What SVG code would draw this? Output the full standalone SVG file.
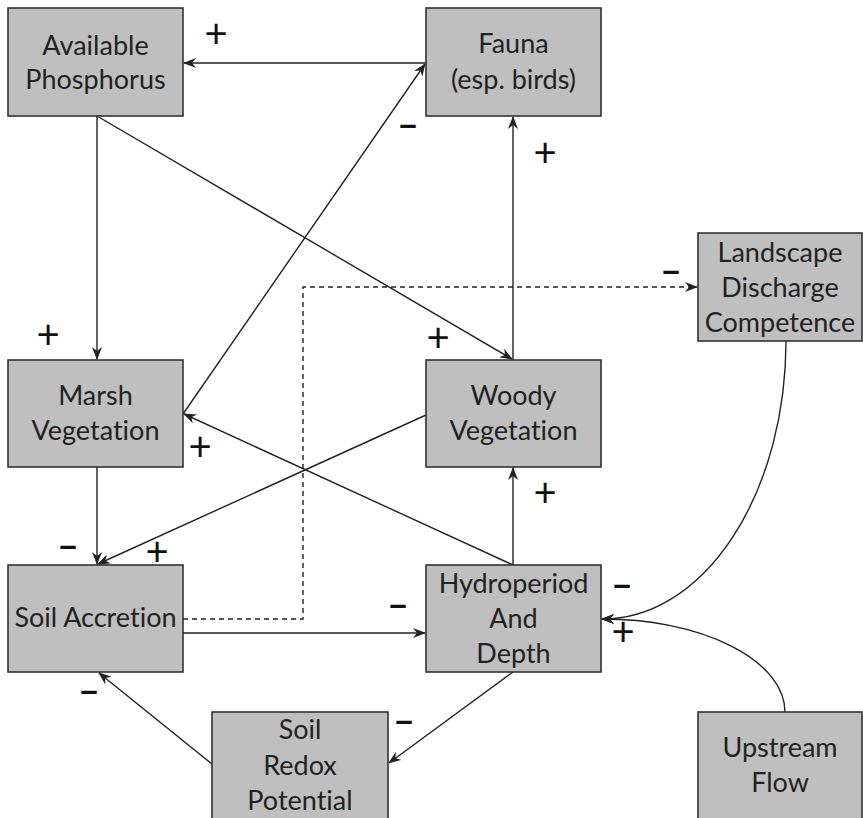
<svg xmlns="http://www.w3.org/2000/svg" width="863" height="818" viewBox="0 0 863 818">
<defs>
<marker id="ah" markerWidth="14" markerHeight="10" refX="12" refY="5" orient="auto" markerUnits="userSpaceOnUse">
<path d="M0,0 L13,5 L0,10 L4,5 Z" fill="#222"/>
</marker>
<style>
.box{fill:#bfbfbf;stroke:#333;stroke-width:1.6}
.lbl{font-family:Lato,"Open Sans","Liberation Sans",sans-serif;font-size:27px;fill:#222;text-anchor:middle;font-variant-ligatures:none}
.ln{fill:none;stroke:#222;stroke-width:1.4;marker-end:url(#ah)}
.dash{fill:none;stroke:#222;stroke-width:1.4;stroke-dasharray:5,4}
.sg{font-family:Lato,"Liberation Sans",sans-serif;font-size:40px;fill:#111;text-anchor:middle}
.mn{font-family:Lato,"Liberation Sans",sans-serif;font-size:38px;font-weight:bold;fill:#111;text-anchor:middle}
</style>
</defs>
<rect width="863" height="818" fill="#fff"/>
<g id="connectors">
<line class="ln" x1="426" y1="63" x2="184" y2="63"/>
<line class="ln" x1="183" y1="414" x2="425" y2="64"/>
<line class="ln" x1="97" y1="116" x2="97" y2="359"/>
<line class="ln" x1="97" y1="116" x2="512" y2="359"/>
<line class="ln" x1="513" y1="360" x2="513" y2="117"/>
<polyline class="dash" points="183,619 303,619 303,287 690,287"/>
<line class="ln" x1="689" y1="287" x2="697" y2="287"/>
<line class="ln" x1="513" y1="565" x2="184" y2="414"/>
<line class="ln" x1="426" y1="415" x2="98" y2="564"/>
<line class="ln" x1="97" y1="467" x2="97" y2="564"/>
<line class="ln" x1="513" y1="565" x2="513" y2="468"/>
<line class="ln" x1="183" y1="633" x2="425" y2="633"/>
<line class="ln" x1="513" y1="672" x2="389" y2="763"/>
<line class="ln" x1="212" y1="764" x2="99" y2="673"/>
<path class="ln" d="M786,341 A183,278 0 0 1 602,619"/>
<path class="ln" d="M785,712 A182,93 0 0 0 602,619"/>
</g>
<g id="available-phosphorus">
<rect class="box" x="8" y="8" width="175" height="108"/>
<text class="lbl" x="95.5" y="55">Available</text>
<text class="lbl" x="95.5" y="89">Phosphorus</text>
</g>
<g id="fauna">
<rect class="box" x="426" y="8" width="175" height="108"/>
<text class="lbl" x="513.5" y="53">Fauna</text>
<text class="lbl" x="513.5" y="89">(esp. birds)</text>
</g>
<g id="landscape-discharge">
<rect class="box" x="698" y="233" width="164" height="108"/>
<text class="lbl" x="780" y="262">Landscape</text>
<text class="lbl" x="780" y="297">Discharge</text>
<text class="lbl" x="780" y="332">Competence</text>
</g>
<g id="marsh-vegetation">
<rect class="box" x="8" y="360" width="175" height="107"/>
<text class="lbl" x="95.5" y="405">Marsh</text>
<text class="lbl" x="95.5" y="440">Vegetation</text>
</g>
<g id="woody-vegetation">
<rect class="box" x="426" y="360" width="175" height="107"/>
<text class="lbl" x="513.5" y="405">Woody</text>
<text class="lbl" x="513.5" y="440">Vegetation</text>
</g>
<g id="soil-accretion">
<rect class="box" x="8" y="565" width="175" height="107"/>
<text class="lbl" x="95.5" y="627">Soil Accretion</text>
</g>
<g id="hydroperiod">
<rect class="box" x="426" y="565" width="175" height="107"/>
<text class="lbl" x="513.5" y="593">Hydroperiod</text>
<text class="lbl" x="513.5" y="628">And</text>
<text class="lbl" x="513.5" y="663">Depth</text>
</g>
<g id="soil-redox">
<rect class="box" x="212" y="712" width="176" height="120"/>
<text class="lbl" x="300" y="739">Soil</text>
<text class="lbl" x="300" y="775">Redox</text>
<text class="lbl" x="300" y="810">Potential</text>
</g>
<g id="upstream-flow">
<rect class="box" x="698" y="712" width="164" height="120"/>
<text class="lbl" x="780" y="757">Upstream</text>
<text class="lbl" x="780" y="792">Flow</text>
</g>
<g id="signs">
<text class="sg" x="216" y="48">+</text>
<text class="mn" x="408" y="138">–</text>
<text class="sg" x="545" y="167">+</text>
<text class="sg" x="48" y="349">+</text>
<text class="sg" x="438" y="352">+</text>
<text class="mn" x="671" y="284">–</text>
<text class="sg" x="200" y="461">+</text>
<text class="mn" x="68" y="559">–</text>
<text class="sg" x="157" y="566">+</text>
<text class="sg" x="545" y="507">+</text>
<text class="mn" x="398" y="618">–</text>
<text class="mn" x="622" y="598">–</text>
<text class="sg" x="623" y="646">+</text>
<text class="mn" x="89" y="704">–</text>
<text class="mn" x="404" y="734">–</text>
</g>
</svg>
